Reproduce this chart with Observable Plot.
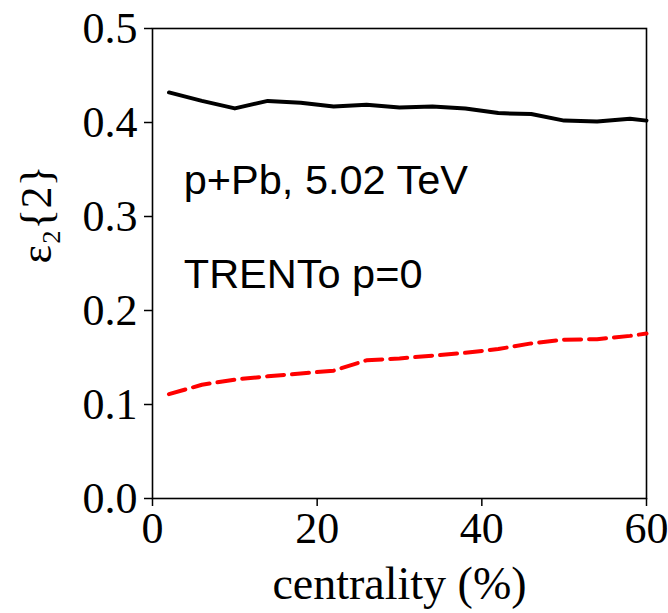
<!DOCTYPE html>
<html>
<head>
<meta charset="utf-8">
<script src="https://cdn.jsdelivr.net/npm/d3@7"></script>
<script src="https://cdn.jsdelivr.net/npm/@observablehq/plot@0.6"></script>
<style>
  html, body { margin: 0; padding: 0; background: #fff; }
</style>
</head>
<body>
<div id="chart"></div>
<script>
const centrality = [2, 6, 10, 14, 18, 22, 26, 30, 34, 38, 42, 46, 50, 54, 58, 60];
const eps2Black = [0.432, 0.423, 0.415, 0.423, 0.421, 0.417, 0.419, 0.416, 0.417, 0.415, 0.410, 0.409, 0.402, 0.401, 0.404, 0.402];
const eps2Red = [0.111, 0.121, 0.1265, 0.130, 0.133, 0.136, 0.147, 0.149, 0.152, 0.155, 0.159, 0.165, 0.169, 0.1695, 0.173, 0.1755];
const xTicks = [0, 20, 40, 60];
const yTicks = [0.0, 0.1, 0.2, 0.3, 0.4, 0.5];
const annotations = [
  {x: 3.8, y: 0.338, text: "p+Pb, 5.02 TeV"},
  {x: 3.8, y: 0.238, text: "TRENTo p=0"}
];

const black = centrality.map((c, i) => ({c, v: eps2Black[i]}));
const red = centrality.map((c, i) => ({c, v: eps2Red[i]}));

const chart = Plot.plot({
  width: 668,
  height: 613,
  marginLeft: 152,
  marginRight: 22,
  marginTop: 28,
  marginBottom: 115,
  style: {fontFamily: "'Liberation Serif', 'DejaVu Serif', serif", fontSize: "44px", color: "#000", background: "#fff", overflow: "visible"},
  x: {domain: [0, 60]},
  y: {domain: [0, 0.5]},
  marks: [
    Plot.frame({stroke: "#000", strokeWidth: 1.6, strokeOpacity: 1}),
    Plot.axisX({ticks: xTicks, tickSize: 8, tickPadding: 5, fontSize: 44, strokeWidth: 1.5,
      label: null}),
    Plot.axisY({ticks: yTicks, tickFormat: d3.format(".1f"), tickSize: 8, tickPadding: 7, fontSize: 44, strokeWidth: 1.5,
      label: null}),
    Plot.text(["centrality (%)"], {frameAnchor: "bottom", dy: 100, fontSize: 46, letterSpacing: "2px", lineAnchor: "bottom", fill: "#000"}),
    Plot.text(["ε₂{2}"], {frameAnchor: "left", dx: -116, rotate: -90, fontSize: 44, lineAnchor: "middle", fill: "#000"}),
    Plot.line(black, {x: "c", y: "v", stroke: "#000", strokeWidth: 4}),
    Plot.line(red, {x: "c", y: "v", stroke: "#ff0000", strokeWidth: 4, strokeDasharray: "17,8"}),
    Plot.text(annotations, {x: "x", y: "y", text: "text", textAnchor: "start", fontSize: 41.5,
      fontFamily: "'Liberation Sans', Arial, sans-serif", fill: "#000"})
  ]
});
document.getElementById("chart").appendChild(chart);
</script>
</body>
</html>
